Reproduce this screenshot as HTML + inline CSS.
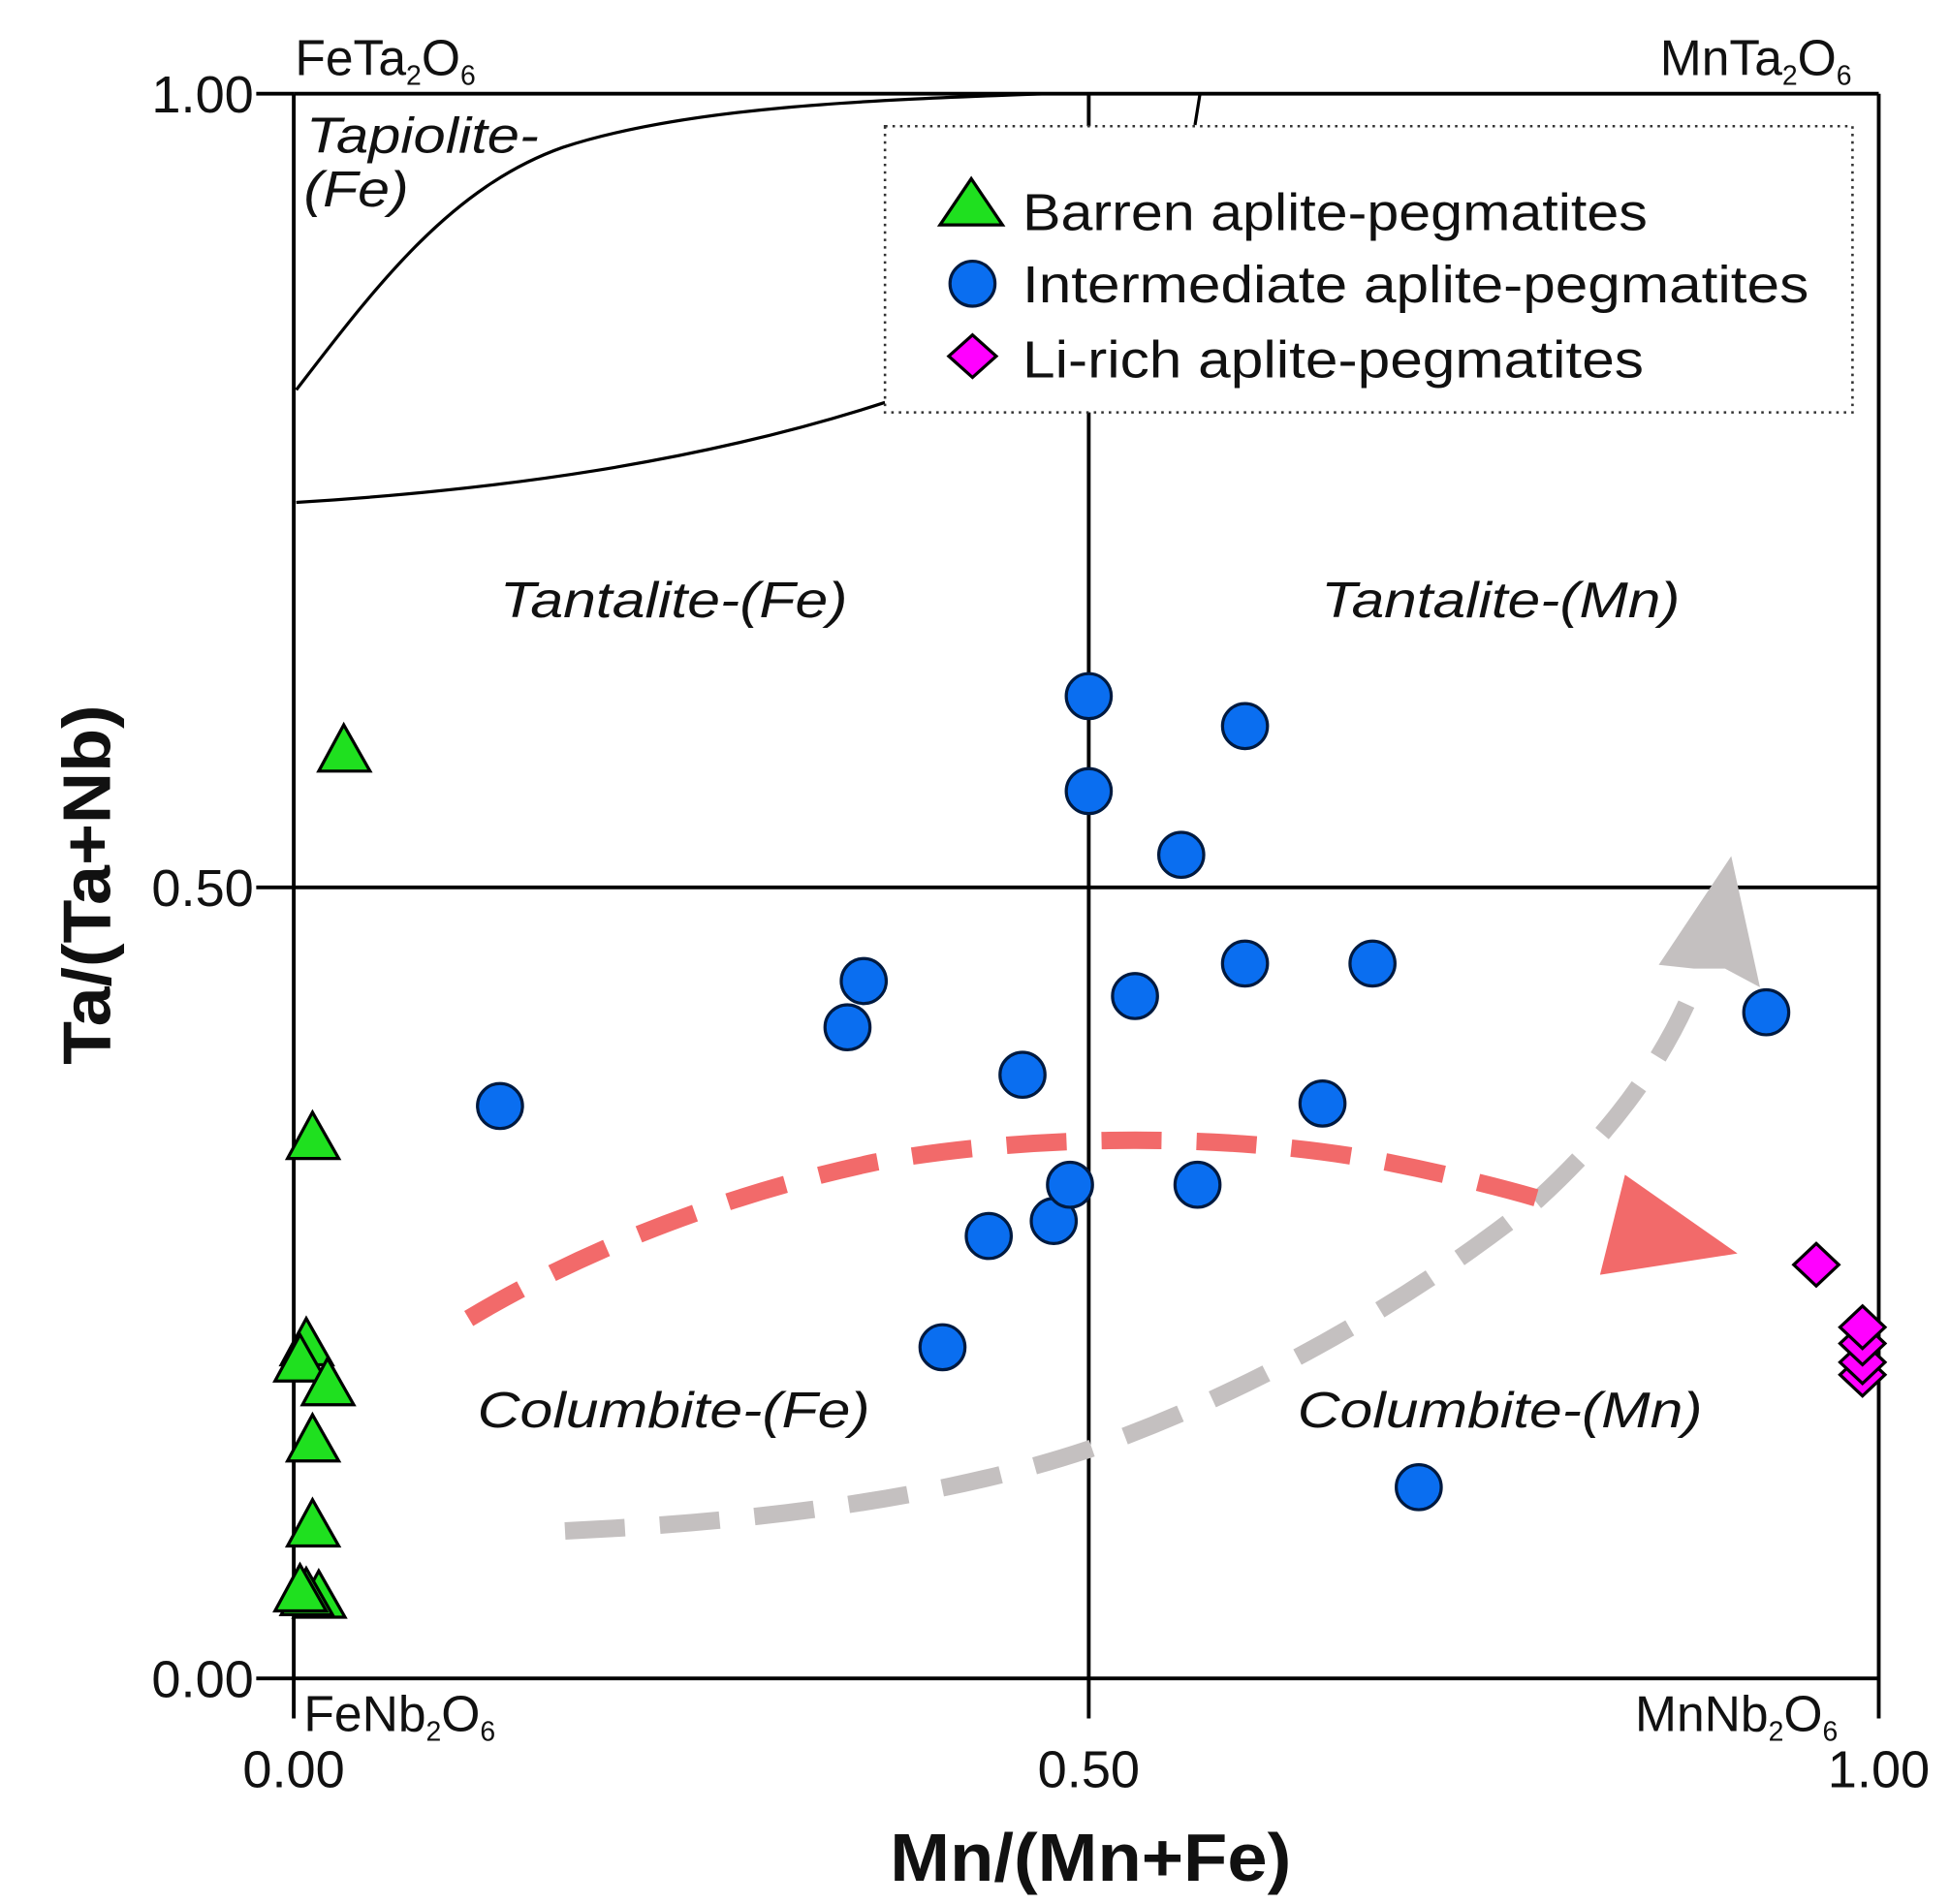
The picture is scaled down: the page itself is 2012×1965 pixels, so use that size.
<!DOCTYPE html>
<html><head><meta charset="utf-8"><style>html,body{margin:0;padding:0;background:#fff}svg{display:block}</style></head>
<body>
<svg width="2012" height="1965" viewBox="0 0 1560 1523.5" preserveAspectRatio="none" xmlns="http://www.w3.org/2000/svg" font-family="Liberation Sans, sans-serif">
<rect width="1560" height="1524" fill="#fff"/>
<g stroke="#000" stroke-width="3" fill="none">
<line x1="235" y1="75" x2="1503" y2="75"/>
<line x1="235" y1="75" x2="235" y2="1375"/>
<line x1="1503" y1="75" x2="1503" y2="1375"/>
<line x1="205" y1="1343" x2="1503" y2="1343"/>
<line x1="205" y1="75" x2="235" y2="75"/>
<line x1="205" y1="710" x2="1503" y2="710"/>
<line x1="871" y1="75" x2="871" y2="1375"/>
</g>
<g stroke="#000" stroke-width="2.5" fill="none">
<path d="M237,312 C300,230 360,150 450,118 C550,85 700,80 835,75"/>
<path d="M237,402 C400,392 560,370 708,322"/>
<path d="M960,75 L956,100"/>
</g>
<rect x="708" y="101" width="774" height="229" fill="#fff" stroke="#333" stroke-width="2" stroke-dasharray="2,4"/>
<path d="M452,1225 C600,1218 750,1200 870,1160 C1000,1115 1130,1040 1230,960 C1290,905 1330,850 1355,790" fill="none" stroke="#c4c0c0" stroke-width="14" stroke-dasharray="48,28"/>
<polygon points="1327,772 1385,685 1408,790 1380,775 1355,775" fill="#c4c0c0"/>
<path d="M375,1055 C450,1010 560,960 700,930 C820,908 980,905 1110,930 C1170,942 1220,955 1250,965" fill="none" stroke="#f26a6a" stroke-width="14" stroke-dasharray="48,28"/>
<polygon points="1280,1020 1300,940 1390,1003" fill="#f26a6a"/>
<g fill="#1fe01f" stroke="#000" stroke-width="2.5">
<polygon points="275,580 255,617 296,617"/>
<polygon points="250,890 230,927 271,927"/>
<polygon points="245,1055 225,1092 266,1092"/>
<polygon points="240,1068 220,1105 261,1105"/>
<polygon points="262,1087 242,1124 283,1124"/>
<polygon points="250,1132 230,1169 271,1169"/>
<polygon points="250,1200 230,1237 271,1237"/>
<polygon points="255,1257 235,1294 276,1294"/>
<polygon points="245,1255 225,1292 266,1292"/>
<polygon points="240,1252 220,1289 261,1289"/>
</g>
<g fill="#0a6ef0" stroke="#001a40" stroke-width="2.5">
<circle cx="400" cy="885" r="18"/><circle cx="678" cy="822" r="18"/><circle cx="691" cy="785" r="18"/>
<circle cx="754" cy="1078" r="18"/><circle cx="791" cy="989" r="18"/><circle cx="818" cy="860" r="18"/>
<circle cx="843" cy="977" r="18"/><circle cx="856" cy="948" r="18"/><circle cx="871" cy="557" r="18"/>
<circle cx="871" cy="633" r="18"/><circle cx="908" cy="797" r="18"/><circle cx="945" cy="684" r="18"/>
<circle cx="958" cy="948" r="18"/><circle cx="996" cy="581" r="18"/><circle cx="996" cy="771" r="18"/>
<circle cx="1058" cy="883" r="18"/><circle cx="1098" cy="771" r="18"/><circle cx="1135" cy="1190" r="18"/>
<circle cx="1413" cy="810" r="18"/>
</g>
<g fill="#ff00ff" stroke="#000" stroke-width="2.5">
<polygon points="1453,995 1471,1012 1453,1029 1435,1012"/>
<polygon points="1490,1083 1508,1100 1490,1117 1472,1100"/>
<polygon points="1490,1073 1508,1090 1490,1107 1472,1090"/>
<polygon points="1490,1058 1508,1075 1490,1092 1472,1075"/>
<polygon points="1490,1045 1508,1062 1490,1079 1472,1062"/>
</g>
<polygon points="777,143 752,180 802,180" fill="#1fe01f" stroke="#000" stroke-width="2.5"/>
<circle cx="778" cy="227" r="18" fill="#0a6ef0" stroke="#001a40" stroke-width="2.5"/>
<polygon points="778,268 797,285 778,302 759,285" fill="#ff00ff" stroke="#000" stroke-width="2.5"/>
<g font-size="42" fill="#111" lengthAdjust="spacingAndGlyphs">
<text x="818" y="184" textLength="500" lengthAdjust="spacingAndGlyphs">Barren aplite-pegmatites</text>
<text x="818" y="242" textLength="629" lengthAdjust="spacingAndGlyphs">Intermediate aplite-pegmatites</text>
<text x="818" y="302" textLength="497" lengthAdjust="spacingAndGlyphs">Li-rich aplite-pegmatites</text>
</g>
<g font-size="40" font-style="italic" fill="#111">
<text x="245" y="122" textLength="186" lengthAdjust="spacingAndGlyphs">Tapiolite-</text>
<text x="243" y="165" textLength="84" lengthAdjust="spacingAndGlyphs">(Fe)</text>
<text x="400" y="494" textLength="278" lengthAdjust="spacingAndGlyphs">Tantalite-(Fe)</text>
<text x="1057" y="494" textLength="287" lengthAdjust="spacingAndGlyphs">Tantalite-(Mn)</text>
<text x="382" y="1142" textLength="314" lengthAdjust="spacingAndGlyphs">Columbite-(Fe)</text>
<text x="1038" y="1142" textLength="324" lengthAdjust="spacingAndGlyphs">Columbite-(Mn)</text>
</g>
<g font-size="40" fill="#111">
<text x="236" y="60">FeTa<tspan font-size="22" dy="8">2</tspan><tspan dy="-8">O</tspan><tspan font-size="22" dy="8">6</tspan></text>
<text x="1328" y="60">MnTa<tspan font-size="22" dy="8">2</tspan><tspan dy="-8">O</tspan><tspan font-size="22" dy="8">6</tspan></text>
<text x="243" y="1385">FeNb<tspan font-size="22" dy="8">2</tspan><tspan dy="-8">O</tspan><tspan font-size="22" dy="8">6</tspan></text>
<text x="1308" y="1385">MnNb<tspan font-size="22" dy="8">2</tspan><tspan dy="-8">O</tspan><tspan font-size="22" dy="8">6</tspan></text>
</g>
<g font-size="42" fill="#111" text-anchor="end">
<text x="203" y="90">1.00</text>
<text x="203" y="725">0.50</text>
<text x="203" y="1358">0.00</text>
</g>
<g font-size="42" fill="#111" text-anchor="middle">
<text x="235" y="1430">0.00</text>
<text x="871" y="1430">0.50</text>
<text x="1503" y="1430">1.00</text>
</g>
<text x="712" y="1505" font-size="54" font-weight="bold" fill="#111" textLength="321" lengthAdjust="spacingAndGlyphs">Mn/(Mn+Fe)</text>
<text transform="translate(88,708) rotate(-90)" font-size="54" font-weight="bold" text-anchor="middle" fill="#111" textLength="288" lengthAdjust="spacingAndGlyphs">Ta/(Ta+Nb)</text>
</svg>
</body></html>
